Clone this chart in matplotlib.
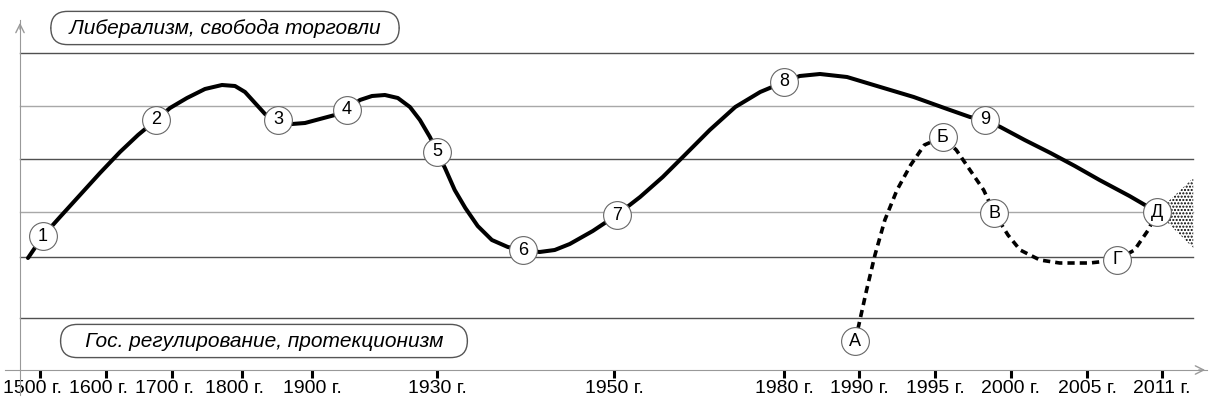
import numpy as np
import matplotlib.pyplot as plt
from matplotlib.scale import FuncScale
from matplotlib.patches import Polygon
from matplotlib.transforms import ScaledTranslation

plt.rcParams['font.family'] = ['Liberation Sans', 'DejaVu Sans']

# подписи оси времени
tick_years = [1500, 1600, 1700, 1800, 1900, 1930, 1950, 1980, 1990, 1995, 2000, 2005, 2011]
tick_labels = [f"{y} г." for y in tick_years]

# основная кривая (сплошная): год, уровень
main_years = [1481.8, 1504.5, 1530.3, 1560.6, 1590.9, 1621.2, 1648.5, 1675.8, 1697.0, 1721.4,
              1747.1, 1771.4, 1790.0, 1804.3, 1818.6, 1832.9, 1851.4, 1871.4, 1890.0, 1901.9,
              1905.5, 1908.4, 1911.5, 1914.4, 1917.5, 1920.6, 1923.5, 1925.9, 1928.3, 1930.0,
              1930.9, 1932.0, 1933.2, 1934.6, 1936.2, 1938.0, 1939.7, 1941.6, 1943.3, 1945.0,
              1947.6, 1950.5, 1954.6, 1958.6, 1962.5, 1966.9, 1971.4, 1975.8, 1980.0, 1982.1,
              1984.8, 1988.4, 1991.4, 1993.6, 1995.8, 1997.3, 1998.3, 1999.3, 2000.9, 2002.6,
              2004.2, 2006.0, 2008.4, 2010.6]
main_level = [112, 134, 153, 175, 197, 218, 235, 250, 262, 272,
              281, 285, 284, 278, 267, 256, 250, 246, 247, 251,
              255, 260, 270, 274, 275, 272, 263, 250, 233, 218,
              202, 180, 162, 144, 130, 123, 120, 118, 120, 126,
              139, 155, 173, 193, 215, 240, 263, 278, 288, 294,
              296, 293, 283, 273, 261, 253, 250, 243, 230, 217,
              204, 190, 174, 158]

# пунктирная кривая (А-Б-В-Г-Д)
dash_years = [1989.5, 1990.5, 1991.05, 1991.7, 1992.5, 1993.4, 1994.3, 1995.5, 1996.4, 1997.3,
              1998.2, 1998.9, 1999.8, 2000.6, 2001.9, 2003.2, 2005.2, 2007.4, 2008.8, 2009.9, 2010.6]
dash_level = [29, 80, 115, 150, 180, 205, 225, 233, 220, 200,
              180, 157, 135, 120, 110, 107, 107, 110, 120, 140, 158]

# метки-кружки
mark_text = ['1', '2', '3', '4', '5', '6', '7', '8', '9', 'А', 'Б', 'В', 'Г', 'Д']
mark_years = [1504.5, 1675.8, 1851.4, 1908.4, 1930.0, 1939.7, 1950.5, 1980.0, 1998.3,
              1989.5, 1995.5, 1998.9, 2007.4, 2010.6]
mark_level = [134, 250, 250, 260, 218, 120, 155, 288, 250, 29, 233, 157, 110, 158]

# веер неопределённости после 2011 г.
fan_years = [2010.6, 2013.5, 2013.5]
fan_level = [158, 192, 122]

# горизонтальные линии сетки
grid_level = [317, 264, 211, 158, 113, 52]
grid_color = ['#505050', '#a8a8a8', '#505050', '#a8a8a8', '#505050', '#505050']

# --- шкала времени: неравномерная, по положению подписей (пиксели) ---
AXIS_PX = np.array([40, 106, 172, 242, 312, 437, 614, 784, 859, 935, 1011, 1087, 1162], float)
TY = np.array(tick_years, float)


def fwd(x):
    x = np.asarray(x, float)
    out = np.interp(x, TY, AXIS_PX)
    k0 = (AXIS_PX[1] - AXIS_PX[0]) / (TY[1] - TY[0])
    k1 = (AXIS_PX[-1] - AXIS_PX[-2]) / (TY[-1] - TY[-2])
    out = np.where(x < TY[0], AXIS_PX[0] + (x - TY[0]) * k0, out)
    out = np.where(x > TY[-1], AXIS_PX[-1] + (x - TY[-1]) * k1, out)
    return out


def inv(p):
    p = np.asarray(p, float)
    out = np.interp(p, AXIS_PX, TY)
    k0 = (TY[1] - TY[0]) / (AXIS_PX[1] - AXIS_PX[0])
    k1 = (TY[-1] - TY[-2]) / (AXIS_PX[-1] - AXIS_PX[-2])
    out = np.where(p < AXIS_PX[0], TY[0] + (p - AXIS_PX[0]) * k0, out)
    out = np.where(p > AXIS_PX[-1], TY[-1] + (p - AXIS_PX[-1]) * k1, out)
    return out


fig = plt.figure(figsize=(12.09, 4.11), dpi=100)
ax = fig.add_axes([0, 0, 1, 1])
ax.set_xscale(FuncScale(ax, (fwd, inv)))
ax.set_xlim(float(inv(0)), float(inv(1209)))
ax.set_ylim(-41, 370)

# сетка
x0, x1 = float(inv(20)), float(inv(1193))
for lvl, col in zip(grid_level, grid_color):
    ax.plot([x0, x1], [lvl, lvl], color=col, lw=1, zorder=1)

# оси
for s in ['top', 'right']:
    ax.spines[s].set_visible(False)
ax.spines['bottom'].set_position(('data', 0))
ax.spines['bottom'].set_bounds(float(inv(5)), float(inv(1207)))
ax.spines['bottom'].set_color('#999999')
ax.spines['left'].set_position(('data', float(inv(20))))
ax.spines['left'].set_bounds(-25, 350)
ax.spines['left'].set_color('#999999')
ax.tick_params(axis='y', left=False, labelleft=False)
ax.annotate('', xy=(float(inv(1208)), 0), xytext=(float(inv(1196)), 0),
            arrowprops=dict(arrowstyle='->,head_length=0.6,head_width=0.3', color='#999999', lw=1))
ax.annotate('', xy=(float(inv(20)), 350), xytext=(float(inv(20)), 338),
            arrowprops=dict(arrowstyle='->,head_length=0.6,head_width=0.3', color='#999999', lw=1))

ax.set_xticks(tick_years)
ax.set_xticklabels(tick_labels)
ax.tick_params(axis='x', direction='out', length=5.5, width=2.2, color='black',
               labelsize=14, pad=1.5)
shift = ScaledTranslation(-0.07, 0, fig.dpi_scale_trans)
for lab in ax.get_xticklabels()[:4]:
    lab.set_transform(lab.get_transform() + shift)

# кривые
ax.plot(main_years, main_level, color='black', lw=2.9, solid_capstyle='round',
        solid_joinstyle='round', zorder=3)
ax.plot(dash_years, dash_level, color='black', lw=2.6, linestyle=(0, (2.0, 1.4)), zorder=3)

# веер
ax.add_patch(Polygon(list(zip(fan_years, fan_level)), closed=True, facecolor='white',
                     edgecolor='black', hatch='.....', lw=0, zorder=2))

# кружки
ax.scatter(mark_years, mark_level, s=400, facecolor='white', edgecolor='#666666',
           linewidths=0.8, zorder=4)
for t, x, y in zip(mark_text, mark_years, mark_level):
    ax.text(x, y, t, ha='center', va='center', fontsize=13, zorder=5)

# подписи полюсов
box = dict(boxstyle='round,pad=0.34,rounding_size=0.8', facecolor='white',
           edgecolor='#555555', lw=1)
ax.text(1775.7, 342, '  Либерализм, свобода торговли  ', style='italic', fontsize=15,
        ha='center', va='center', bbox=box, zorder=5)
ax.text(1831.4, 29, '   Гос. регулирование, протекционизм   ', style='italic', fontsize=15,
        ha='center', va='center', bbox=box, zorder=5)

fig.savefig('out.png', dpi=100)
